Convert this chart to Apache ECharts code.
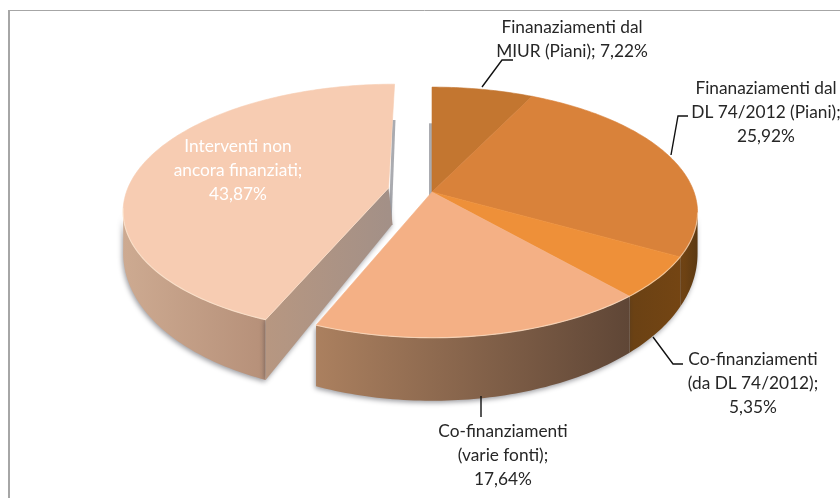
<!DOCTYPE html>
<html><head><meta charset="utf-8">
<style>html,body{margin:0;padding:0;background:#fff}#c{width:840px;height:498px}</style>
<script src="https://cdn.jsdelivr.net/npm/echarts@6/dist/echarts.min.js"></script></head>
<body><div id="c"></div>
<script>
const categories = [
  'Finanaziamenti dal\nMIUR (Piani); {v}',
  'Finanaziamenti dal\nDL 74/2012 (Piani);\n{v}',
  'Co-finanziamenti\n(da DL 74/2012);\n{v}',
  'Co-finanziamenti\n(varie fonti);\n{v}',
  'Interventi non\nancora finanziati;\n{v}'
];
const shares = [7.22, 25.92, 5.35, 17.64, 43.87];
const topColors = ['#C37630', '#D9823A', '#EE9039', '#F4B085', '#F7CCB2'];
const wallColors = [
  ['#6b4114', '#6b4114'], ['#5b3912', '#744513'], ['#744513', '#6a4114'],
  ['#5f4636', '#ab805f'], ['#b69079', '#cdaa91']
];
const explode = [0, 0, 0, 0, 0.17];
const labelPos = [[572, 39], [766, 112], [753, 383], [503, 455], [238, 170]];
const labelColor = ['#262626', '#262626', '#262626', '#262626', '#ffffff'];
const leaders = [
  [[482, 87], [502, 60], [513, 60]],
  [[671, 155], [678, 116], [688, 116]],
  [[653, 337], [673, 364], [683, 364]],
  [[481, 396], [481, 417]],
  null
];

// projection of the tilted disc
const CX = 432, CY = 192, A = 262, B = 122, K = 0.163, D0 = 37, D1 = 26;
function proj(u, v, down) {
  const w = 1 - K * v;
  return [CX + A * u / w, CY + B * v / w + (down ? D0 + D1 * v : 0)];
}
const LEFT_EDGE = 260.6, RIGHT_EDGE = 99.4;
function rim(deg, ox, oy, down) {
  const t = deg * Math.PI / 180;
  return proj(Math.sin(t) + ox, -Math.cos(t) + oy, down);
}
function arc(a0, a1, ox, oy, down) {
  const pts = [], n = Math.max(2, Math.ceil(Math.abs(a1 - a0)));
  for (let j = 0; j <= n; j++) pts.push(rim(a0 + (a1 - a0) * j / n, ox, oy, down));
  return pts;
}
const total = shares.reduce((a, b) => a + b, 0);
const starts = [];
shares.reduce((acc, s, i) => (starts[i] = acc, acc + s), 0);

function renderItem(params, api) {
  const i = api.value(0), share = api.value(1);
  const a0 = starts[i] / total * 360, a1 = a0 + share / total * 360;
  const mid = (a0 + a1) / 2 * Math.PI / 180;
  const ox = Math.sin(mid) * explode[i], oy = -Math.cos(mid) * explode[i];
  const base = explode[i] ? 1 : 5;
  const apex = proj(ox, oy, false), apexD = proj(ox, oy, true);
  const children = [];
  const poly = (points, style, z) => children.push({ type: 'polygon', shape: { points }, style, z2: z });
  const grad = (pts, cols) => {
    const xs = pts.map(p => p[0]);
    return { type: 'linear', x: Math.min(...xs), y: 0, x2: Math.max(...xs), y2: 0, global: true,
      colorStops: [{ offset: 0, color: cols[1] }, { offset: 1, color: cols[0] }] };
  };
  const shadow = { shadowBlur: 5, shadowColor: 'rgba(40,40,50,0.45)', shadowOffsetY: 2, shadowOffsetX: -1 };

  // rear sliver visible in the gap
  if (i === 0 || explode[i]) {
    const sign = explode[i] ? 1 : -1;
    const st = proj(ox, oy - 0.62, false), sb = proj(ox, oy, true);
    poly([[st[0] + sign * 3, st[1]], [sb[0] + sign * 3, sb[1]], [apex[0], sb[1]], [apex[0] + (explode[i] ? 4 : 0), st[1]]],
      { fill: '#8d8f95', opacity: 0.75 }, base - 1);
  }
  // outer wall
  const w0 = Math.max(a0, RIGHT_EDGE), w1 = Math.min(a1, LEFT_EDGE);
  if (w1 > w0) {
    const t = arc(w0, w1, ox, oy, false), b = arc(w0, w1, ox, oy, true);
    const pts = t.concat(b.reverse());
    poly(pts, Object.assign({ fill: grad(pts, wallColors[i]) }, shadow), base);
  }
  // inner wall of the detached slice
  if (explode[i]) {
    const e = rim(a0, ox, oy, false), eD = rim(a0, ox, oy, true);
    const pts = [apex, e, eD, [apexD[0] + 4, apexD[1]]];
    poly(pts, Object.assign({ fill: {
      type: 'linear', x: e[0], y: 0, x2: apex[0], y2: 0, global: true,
      colorStops: [{ offset: 0, color: '#b79781' }, { offset: 1, color: '#a39087' }] } }, shadow), base);
  }
  // top face
  const face = [apex].concat(arc(a0, a1, ox, oy, false));
  poly(face, { fill: topColors[i], stroke: topColors[i], lineWidth: 0.6 }, base + 1);
  // light rim on the front edge
  if (w1 > w0) {
    children.push({ type: 'polyline', shape: { points: arc(w0, w1, ox, oy, false) },
      style: { fill: null, stroke: 'rgba(255,236,215,0.55)', lineWidth: 1.2 }, z2: base + 2 });
  }
  if (explode[i]) {
    children.push({ type: 'polyline', shape: { points: [apex, rim(a0, ox, oy, false)] },
      style: { fill: null, stroke: 'rgba(255,236,215,0.5)', lineWidth: 1 }, z2: base + 2 });
  }
  // leader line
  if (leaders[i]) {
    children.push({ type: 'polyline', shape: { points: leaders[i] },
      style: { fill: null, stroke: '#111', lineWidth: 1.4 }, z2: 20 });
  }
  // label
  children.push({ type: 'text', z2: 21, style: {
    text: categories[i].replace('{v}', share.toFixed(2).replace('.', ',') + '%'),
    x: labelPos[i][0], y: labelPos[i][1], align: 'center', verticalAlign: 'middle',
    fontFamily: 'Lato', fontSize: 17.3, lineHeight: 24, fill: labelColor[i] } });
  return { type: 'group', children };
}

const chart = echarts.init(document.getElementById('c'), null, { renderer: 'canvas' });
chart.setOption({
  animation: false,
  backgroundColor: '#fff',
  graphic: [
    { type: 'line', shape: { x1: 9, y1: 10.5, x2: 840, y2: 10.5 }, style: { stroke: '#a6a6a6', lineWidth: 1 } },
    { type: 'line', shape: { x1: 9, y1: 10, x2: 9, y2: 498 }, style: { stroke: '#a6a6a6', lineWidth: 2 } }
  ],
  series: [{
    type: 'custom', coordinateSystem: 'none', silent: true, renderItem,
    data: shares.map((s, i) => [i, s])
  }]
});
</script></body></html>
